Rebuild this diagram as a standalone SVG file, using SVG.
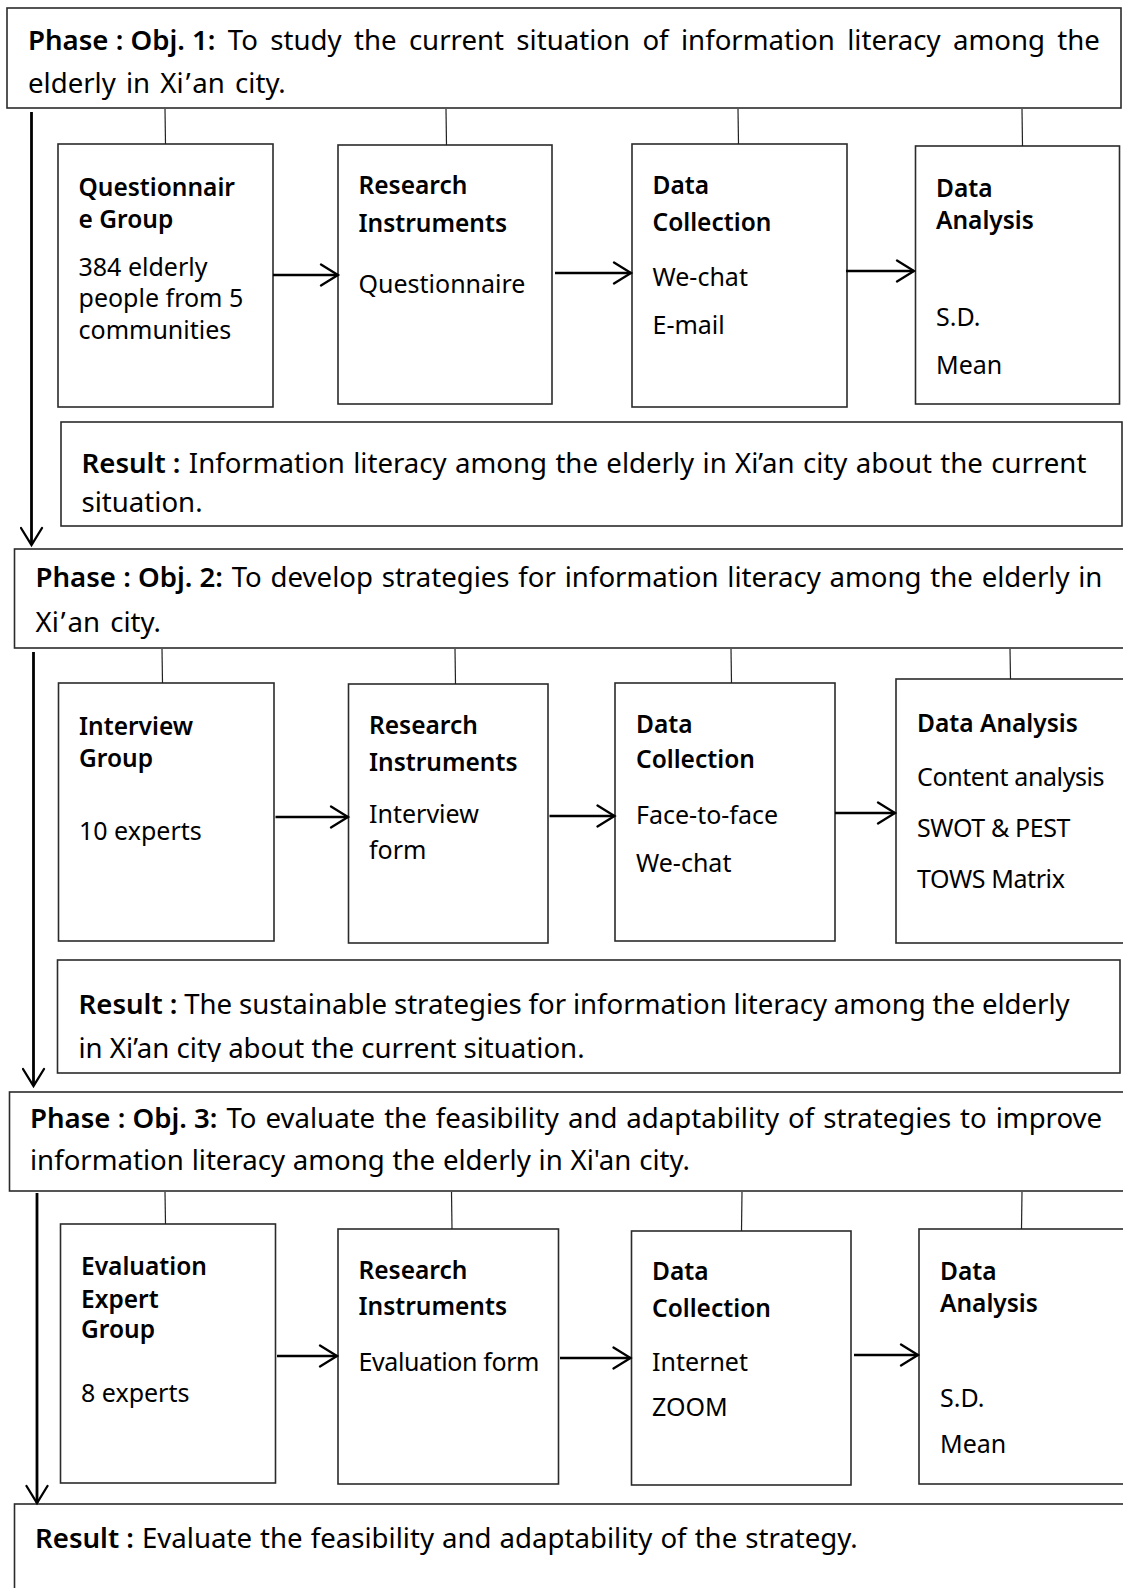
<svg xmlns="http://www.w3.org/2000/svg" width="1123" height="1588" viewBox="0 0 1123 1588">
  <style>
    .box { fill: #fff; stroke: #2b2b2b; stroke-width: 1.6; }
    .t { font-family: "Noto Sans", "Open Sans", sans-serif; fill: #000; }
    .ph { font-size: 27.6px; }
    .b { font-weight: 600; }
    .nh { font-size: 24.5px; font-weight: 600; }
    .nt { font-size: 25px; }
    .link { stroke: #222; stroke-width: 1.2; fill: none; }
    .flow { stroke: #000; stroke-width: 2.4; fill: none; marker-end: url(#head); }
    .down { stroke-width: 2.8; }
  </style>
  <defs>
    <marker id="head" markerUnits="userSpaceOnUse" viewBox="0 0 24 24" markerWidth="24" markerHeight="24" refX="19" refY="12" orient="auto">
      <path d="M2,1.5 L19,12 L2,22.5" fill="none" stroke="#000" stroke-width="2.3" stroke-linecap="round" stroke-linejoin="miter"/>
    </marker>
    <clipPath id="result2-clip">
      <rect x="57" y="960" width="1064" height="102"/>
    </clipPath>
  </defs>

  <rect width="1123" height="1588" fill="#fff"/>

  <!-- ===== Objective 1 ===== -->
  <g id="phase1">
    <rect class="box" x="7" y="8" width="1114" height="100"/>
    <text class="t ph" x="28" y="50"><tspan class="b">Phase : Obj. 1:</tspan><tspan word-spacing="5.2"> To study the current situation of information literacy among the</tspan></text>
    <text class="t ph" x="28" y="93" word-spacing="3">elderly in Xi<tspan dx="2">’</tspan><tspan dx="3">an city.</tspan></text>
  </g>

  <g id="p1-group">
    <rect class="box" x="58" y="144" width="215" height="263"/>
    <text class="t nh"><tspan x="78.5" y="196">Questionnair</tspan><tspan x="78.5" y="228">e Group</tspan></text>
    <text class="t nt"><tspan x="78.5" y="276">384 elderly</tspan><tspan x="78.5" y="307">people from 5</tspan><tspan x="78.5" y="339">communities</tspan></text>
  </g>
  <g id="p1-instruments">
    <rect class="box" x="338" y="145" width="214" height="259"/>
    <text class="t nh"><tspan x="358.5" y="194">Research</tspan><tspan x="358.5" y="232">Instruments</tspan></text>
    <text class="t nt" x="358.5" y="293">Questionnaire</text>
  </g>
  <g id="p1-collection">
    <rect class="box" x="632" y="144" width="215" height="263"/>
    <text class="t nh"><tspan x="652.5" y="194">Data</tspan><tspan x="652.5" y="231">Collection</tspan></text>
    <text class="t nt"><tspan x="652.5" y="286">We-chat</tspan><tspan x="652.5" y="334">E-mail</tspan></text>
  </g>
  <g id="p1-analysis">
    <rect class="box" x="915.5" y="146" width="204" height="258"/>
    <text class="t nh"><tspan x="936" y="197">Data</tspan><tspan x="936" y="229">Analysis</tspan></text>
    <text class="t nt"><tspan x="936" y="326">S.D.</tspan><tspan x="936" y="374">Mean</tspan></text>
  </g>

  <g id="result1">
    <rect class="box" x="61" y="422" width="1061" height="104"/>
    <text class="t ph" x="81.5" y="473"><tspan class="b">Result :</tspan><tspan word-spacing="1.2"> Information literacy among the elderly in Xi’an city about the current</tspan></text>
    <text class="t ph" x="81.5" y="512">situation.</text>
  </g>

  <!-- ===== Objective 2 ===== -->
  <g id="phase2">
    <rect class="box" x="14.5" y="549" width="1120" height="99"/>
    <text class="t ph" x="35.5" y="587"><tspan class="b">Phase : Obj. 2:</tspan><tspan word-spacing="1.6"> To develop strategies for information literacy among the elderly in</tspan></text>
    <text class="t ph" x="35.5" y="632" word-spacing="3">Xi<tspan dx="2">’</tspan><tspan dx="3">an city.</tspan></text>
  </g>

  <g id="p2-group">
    <rect class="box" x="58.5" y="683" width="215.5" height="258"/>
    <text class="t nh"><tspan x="79" y="735">Interview</tspan><tspan x="79" y="767">Group</tspan></text>
    <text class="t nt" x="79" y="840">10 experts</text>
  </g>
  <g id="p2-instruments">
    <rect class="box" x="348.5" y="684" width="199.5" height="259"/>
    <text class="t nh"><tspan x="369" y="734">Research</tspan><tspan x="369" y="771">Instruments</tspan></text>
    <text class="t nt"><tspan x="369" y="823">Interview</tspan><tspan x="369" y="859">form</tspan></text>
  </g>
  <g id="p2-collection">
    <rect class="box" x="615" y="683" width="220" height="258"/>
    <text class="t nh"><tspan x="636" y="733">Data</tspan><tspan x="636" y="768">Collection</tspan></text>
    <text class="t nt"><tspan x="636" y="824">Face-to-face</tspan><tspan x="636" y="872">We-chat</tspan></text>
  </g>
  <g id="p2-analysis">
    <rect class="box" x="896" y="679" width="240" height="264"/>
    <text class="t nh" x="917" y="732">Data Analysis</text>
    <text class="t nt" letter-spacing="-0.4"><tspan x="917" y="786">Content analysis</tspan><tspan x="917" y="837">SWOT &amp; PEST</tspan><tspan x="917" y="888">TOWS Matrix</tspan></text>
  </g>

  <g id="result2">
    <rect class="box" x="57.5" y="960" width="1062.5" height="113"/>
    <g clip-path="url(#result2-clip)">
      <text class="t ph" x="78.5" y="1014"><tspan class="b">Result :</tspan><tspan word-spacing="-0.4"> The sustainable strategies for information literacy among the elderly</tspan></text>
      <text class="t ph" x="78.5" y="1058">in Xi’an city about the current situation.</text>
    </g>
  </g>

  <!-- ===== Objective 3 ===== -->
  <g id="phase3">
    <rect class="box" x="9.5" y="1092" width="1125" height="99"/>
    <text class="t ph" x="30" y="1128"><tspan class="b">Phase : Obj. 3:</tspan><tspan word-spacing="1.8"> To evaluate the feasibility and adaptability of strategies to improve</tspan></text>
    <text class="t ph" x="30" y="1170" word-spacing="0.6">information literacy among the elderly in Xi'an city.</text>
  </g>

  <g id="p3-group">
    <rect class="box" x="60.5" y="1224" width="215" height="259"/>
    <text class="t nh"><tspan x="81" y="1275">Evaluation</tspan><tspan x="81" y="1308">Expert</tspan><tspan x="81" y="1338">Group</tspan></text>
    <text class="t nt" x="81" y="1402">8 experts</text>
  </g>
  <g id="p3-instruments">
    <rect class="box" x="338" y="1229" width="220.5" height="255"/>
    <text class="t nh"><tspan x="358.5" y="1279">Research</tspan><tspan x="358.5" y="1315">Instruments</tspan></text>
    <text class="t nt" x="358.5" y="1371" letter-spacing="-0.4">Evaluation form</text>
  </g>
  <g id="p3-collection">
    <rect class="box" x="631.5" y="1231" width="219.5" height="254"/>
    <text class="t nh"><tspan x="652" y="1280">Data</tspan><tspan x="652" y="1317">Collection</tspan></text>
    <text class="t nt"><tspan x="652" y="1371">Internet</tspan><tspan x="652" y="1416">ZOOM</tspan></text>
  </g>
  <g id="p3-analysis">
    <rect class="box" x="919" y="1229" width="215" height="255"/>
    <text class="t nh"><tspan x="940" y="1280">Data</tspan><tspan x="940" y="1312">Analysis</tspan></text>
    <text class="t nt"><tspan x="940" y="1407">S.D.</tspan><tspan x="940" y="1453">Mean</tspan></text>
  </g>

  <g id="result3">
    <rect class="box" x="14.5" y="1504" width="1125" height="100"/>
    <text class="t ph" x="35" y="1548"><tspan class="b">Result :</tspan><tspan word-spacing="0.9"> Evaluate the feasibility and adaptability of the strategy.</tspan></text>
  </g>

  <!-- ===== Connectors ===== -->
  <g id="connectors">
    <!-- phase boxes to their step boxes -->
    <path class="link" d="M165,109 L165.5,144"/>
    <path class="link" d="M446,109 L446.5,145"/>
    <path class="link" d="M738,109 L738.5,144"/>
    <path class="link" d="M1022,109 L1022.5,146"/>

    <path class="link" d="M162,649 L162.5,683"/>
    <path class="link" d="M455,649 L455.5,684"/>
    <path class="link" d="M731,649 L731.5,683"/>
    <path class="link" d="M1010,649 L1010.5,679"/>

    <path class="link" d="M165,1192 L165.5,1224"/>
    <path class="link" d="M451.5,1192 L452,1229"/>
    <path class="link" d="M742,1192 L741.5,1231"/>
    <path class="link" d="M1022,1192 L1021.5,1229"/>

    <!-- step to step -->
    <path class="flow" d="M273,275 H338"/>
    <path class="flow" d="M555,273 H631"/>
    <path class="flow" d="M846,271 H914"/>

    <path class="flow" d="M275.5,817 H348"/>
    <path class="flow" d="M549.5,816 H614.5"/>
    <path class="flow" d="M835,813 H895"/>

    <path class="flow" d="M277,1356 H337"/>
    <path class="flow" d="M560,1358 H630.5"/>
    <path class="flow" d="M854,1355 H918"/>

    <!-- phase to phase -->
    <path class="flow down" d="M31.5,112 V545"/>
    <path class="flow down" d="M33.5,652 V1086"/>
    <path class="flow down" d="M37,1193 V1503"/>
  </g>
</svg>
